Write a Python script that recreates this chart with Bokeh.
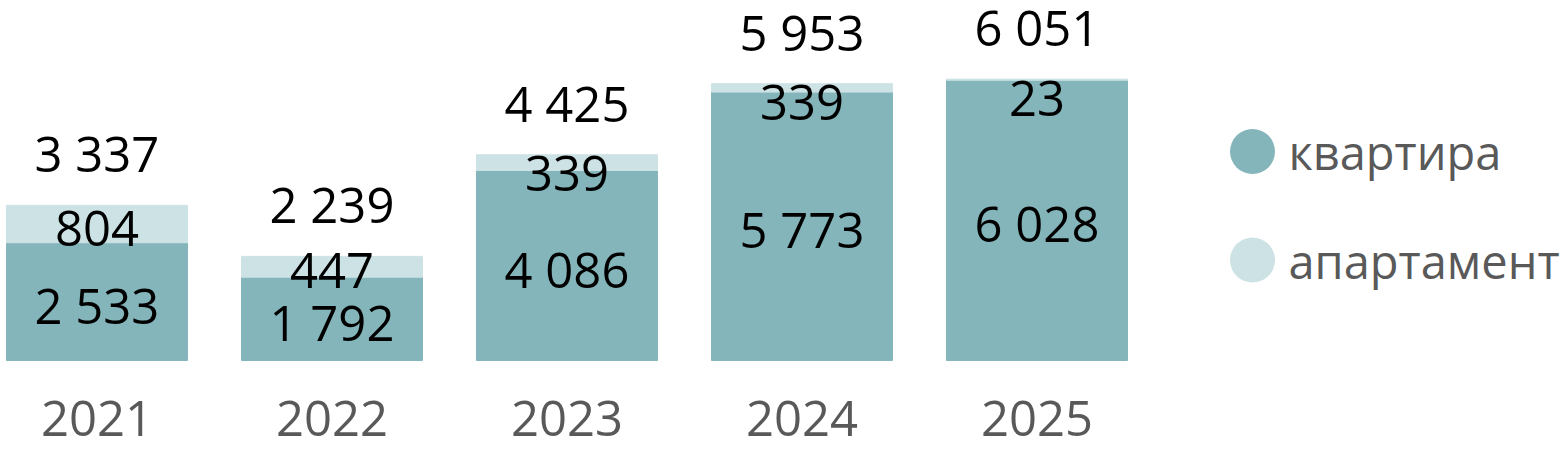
from bokeh.plotting import figure
from bokeh.models import ColumnDataSource, Range1d
from bokeh.core.properties import value
from bokeh.embed import file_html
from bokeh.resources import INLINE

# ---- data ----
years = ["2021", "2022", "2023", "2024", "2025"]
kvartira = [2533, 1792, 4086, 5773, 6028]
apartment = [804, 447, 339, 180, 23]
apartment_labels = ["804", "447", "339", "339", "23"]
totals = [3337, 2239, 4425, 5953, 6051]
kvartira_labels = ["2 533", "1 792", "4 086", "5 773", "6 028"]
total_labels = ["3 337", "2 239", "4 425", "5 953", "6 051"]
series_names = ["квартира", "апартамент"]

C_KV = "#84B5BB"
C_AP = "#CDE2E4"
FONT = value("Open Sans")

xs = list(range(len(years)))
src = ColumnDataSource(dict(
    x=xs,
    kv=kvartira,
    ap_bottom=kvartira,
    ap_top=[k + a for k, a in zip(kvartira, apartment)],
    kv_mid=[k / 2 for k in kvartira],
    total=totals,
    kv_lab=kvartira_labels,
    tot_lab=total_labels,
    year=years,
    zero=[0] * len(years),
))

# apartment label: centered when the segment is tall, else hung from its top
ap_center = []
ap_top_anchor = []
for k, a, lab, x in zip(kvartira, apartment, apartment_labels, xs):
    if a >= 400:
        ap_center.append((x, k + a / 2, lab))
    else:
        ap_top_anchor.append((x, k + a, lab))

W, H = 1567, 452
p = figure(width=W, height=H, output_backend="svg", toolbar_location=None,
           x_range=Range1d(-0.4106, 6.2574), y_range=Range1d(-1978, 7742),
           min_border=0)
p.axis.visible = False
p.grid.visible = False
p.outline_line_color = None
p.background_fill_color = "white"

p.vbar(x="x", top="kv", bottom=0, width=0.77, color=C_KV, source=src)
p.vbar(x="x", top="ap_top", bottom="ap_bottom", width=0.77, color=C_AP, source=src)

common = dict(text_font=FONT, text_font_size="49px", text_align="center",
              text_baseline="middle")

p.text(x="x", y="kv_mid", text="kv_lab", source=src, text_color="black",
       y_offset=3, **common)
if ap_center:
    p.text(x=[c[0] for c in ap_center], y=[c[1] for c in ap_center],
           text=[c[2] for c in ap_center], text_color="black", y_offset=4, **common)
if ap_top_anchor:
    p.text(x=[c[0] for c in ap_top_anchor], y=[c[1] for c in ap_top_anchor],
           text=[c[2] for c in ap_top_anchor], text_color="black", y_offset=19, **common)
p.text(x="x", y="total", text="tot_lab", source=src, text_color="black",
       y_offset=-52, **common)
p.text(x="x", y="zero", text="year", source=src, text_color="#595959",
       y_offset=58, **common)

# legend (manual, circles)
leg_x = 4.917
leg_y = [4495, 2161]
p.scatter(x=[leg_x] * 2, y=leg_y, size=45, marker="circle",
          color=[C_KV, C_AP], line_color=None)
p.text(x=[5.07] * 2, y=leg_y, text=series_names, text_color="#595959",
       text_font=FONT, text_font_size="47px", text_align="left",
       text_baseline="middle", y_offset=1)

open("out.html", "w").write(file_html(p, INLINE))
